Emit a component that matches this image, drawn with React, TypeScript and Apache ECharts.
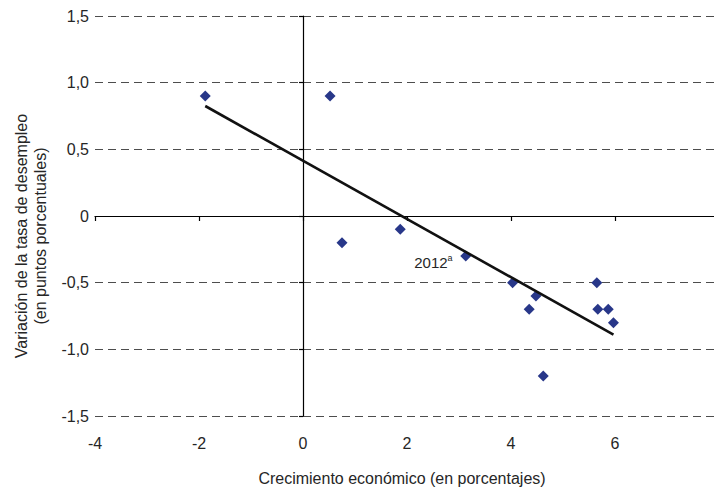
import React, { useEffect, useRef } from "react";
import * as echarts from "echarts";

const growth = [-1.88, 0.52, 0.75, 1.87, 3.13, 4.03, 4.48, 4.35, 4.62, 5.65, 5.67, 5.87, 5.97];
const unemploymentChange = [0.9, 0.9, -0.2, -0.1, -0.3, -0.5, -0.6, -0.7, -1.2, -0.5, -0.7, -0.7, -0.8];
const trendX = [-1.88, 5.97];
const trendY = [0.825, -0.89];
const labelledIndex = 4;
const labelText = "2012";
const labelSup = "a";
const xTitle = "Crecimiento económico (en porcentajes)";
const yTitle = ["Variación de la tasa de desempleo", "(en puntos porcentuales)"];

const FONT = "'Liberation Sans', Arial, sans-serif";
const TXT = "#262626";

export default function App() {
  const ref = useRef<HTMLDivElement>(null);
  useEffect(() => {
    if (!ref.current) return;
    const chart = echarts.init(ref.current, undefined, { renderer: "svg" });
    const points = growth.map((x, i) => {
      const item: any = { value: [x, unemploymentChange[i]] };
      if (i === labelledIndex) {
        item.label = {
          show: true,
          position: [-46, 3],
          formatter: "{n|" + labelText + "}{s|" + labelSup + "}",
          rich: {
            n: { fontSize: 15, fontFamily: FONT, color: TXT, lineHeight: 18 },
            s: { fontSize: 9, fontFamily: FONT, color: TXT, verticalAlign: "top", lineHeight: 18, padding: [0, 0, 8, 0] },
          },
        };
      }
      return item;
    });
    const trend = trendX.map((x, i) => [x, trendY[i]]);
    const fmtY = (v: number) => (v === 0 ? "0" : v.toFixed(1).replace(".", ","));
    chart.setOption({
      animation: false,
      textStyle: { fontFamily: FONT },
      grid: { left: 95, top: 16, width: 624, height: 400, containLabel: false, outerBoundsMode: "none" },
      xAxis: [
        {
          type: "value", min: -4, max: 8, interval: 2, position: "bottom",
          axisLine: { show: false }, axisTick: { show: false }, splitLine: { show: false },
          axisLabel: { fontSize: 16, color: TXT, margin: 19, fontFamily: FONT },
        },
        {
          type: "value", min: -4, max: 8, interval: 2, position: "bottom",
          axisLine: { show: true, onZero: true, onZeroAxisIndex: 0, lineStyle: { color: "#000", width: 1.2 } },
          axisTick: { show: true, length: 5, inside: false, lineStyle: { color: "#000", width: 1.2 } },
          axisLabel: { show: false }, splitLine: { show: false },
        },
      ],
      yAxis: [
        {
          type: "value", min: -1.5, max: 1.5, interval: 0.5, position: "left",
          axisLine: { show: false }, axisTick: { show: false },
          splitLine: { show: true, lineStyle: { color: "#4d4d4d", width: 1, type: [8, 5] } },
          axisLabel: { fontSize: 16, color: TXT, margin: 6, fontFamily: FONT, formatter: fmtY },
        },
        {
          type: "value", min: -1.5, max: 1.5, interval: 0.5, position: "left",
          axisLine: { show: true, onZero: true, onZeroAxisIndex: 0, lineStyle: { color: "#000", width: 1.2 } },
          axisTick: { show: true, length: 4, inside: false, lineStyle: { color: "#000", width: 1.2 } },
          axisLabel: { show: false }, splitLine: { show: false },
        },
      ],
      series: [
        {
          type: "scatter", xAxisIndex: 0, yAxisIndex: 0,
          symbol: "diamond", symbolSize: 11,
          itemStyle: { color: "#283789", opacity: 1 },
          data: points, z: 3,
        },
        {
          type: "line", xAxisIndex: 0, yAxisIndex: 0,
          data: trend, showSymbol: false, symbol: "none",
          lineStyle: { color: "#111", width: 2.6 }, z: 4,
        },
      ],
      graphic: [
        {
          type: "text", x: 402, y: 478,
          style: { text: xTitle, fill: TXT, font: "16px " + FONT, align: "center", verticalAlign: "middle" },
        },
        {
          type: "text", x: 31, y: 236, rotation: Math.PI / 2,
          style: { text: yTitle.join("\n"), fill: TXT, font: "16px " + FONT, align: "center", verticalAlign: "middle", lineHeight: 19 },
        },
      ],
    });
    return () => chart.dispose();
  }, []);
  return <div ref={ref} style={{ position: "absolute", left: 0, top: 0, width: 714, height: 489 }} />;
}
